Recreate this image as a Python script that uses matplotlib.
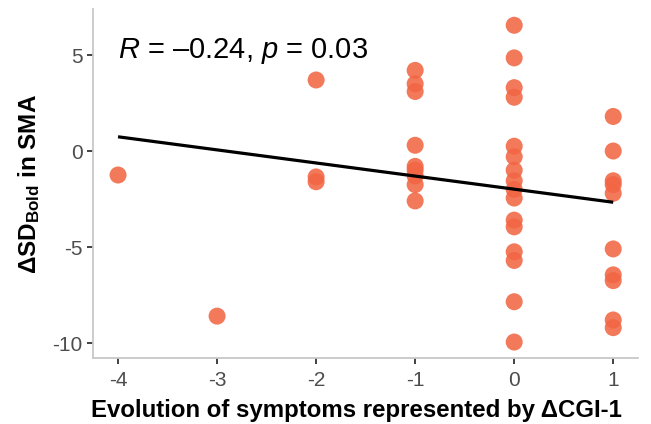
import numpy as np
import matplotlib
matplotlib.use("Agg")
import matplotlib.pyplot as plt

plt.rcParams['font.family'] = ['Liberation Sans', 'DejaVu Sans']
plt.rcParams['mathtext.fontset'] = 'custom'
plt.rcParams['mathtext.rm'] = 'Liberation Sans'
plt.rcParams['mathtext.it'] = 'Liberation Sans:italic'
plt.rcParams['mathtext.bf'] = 'Liberation Sans:bold'

# data: delta CGI-1 (x) and delta SD_Bold in SMA (y)
x_m4 = [-1.25]
x_m3 = [-8.6]
x_m2 = [3.7, -1.35, -1.6]
x_m1 = [4.2, 3.5, 3.1, 0.3, -0.8, -1.0, -1.3, -1.75, -2.6]
x_0 = [6.55, 4.85, 3.3, 2.8, 0.25, -0.3, -1.0, -1.55, -2.0, -2.45,
       -3.6, -3.95, -5.25, -5.7, -7.85, -9.95]
x_1 = [1.8, 0.0, -1.55, -1.75, -2.2, -5.1, -6.45, -6.75, -8.8, -9.2]

groups = {-4: x_m4, -3: x_m3, -2: x_m2, -1: x_m1, 0: x_0, 1: x_1}
xs = np.concatenate([[k] * len(v) for k, v in groups.items()]).astype(float)
ys = np.concatenate([v for v in groups.values()])

x_ticks = [-4, -3, -2, -1, 0, 1]
y_ticks = [-10, -5, 0, 5]
annot = r'$R$ = –0.24, $p$ = 0.03'

fig = plt.figure(figsize=(6.51, 4.24), dpi=100)
ax = fig.add_axes([0.1433, 0.1557, 0.8367, 0.8223])

ax.scatter(xs, ys, s=150, color='#F26644', alpha=0.88, edgecolors='none', zorder=2)

slope, intercept = np.polyfit(xs, ys, 1)
lx = np.array([xs.min(), xs.max()])
ax.plot(lx, intercept + slope * lx, color='black', lw=2.3, zorder=3,
        solid_capstyle='butt')

ax.set_xlim(-4.25, 1.25)
ax.set_ylim(-10.78, 7.38)
ax.set_xticks(x_ticks)
ax.set_yticks(y_ticks)
ax.set_xticklabels([str(t) for t in x_ticks])
ax.set_yticklabels([str(t) for t in y_ticks])

for s in ['top', 'right']:
    ax.spines[s].set_visible(False)
for s in ['left', 'bottom']:
    ax.spines[s].set_color('#c8c8c8')
    ax.spines[s].set_linewidth(1.3)

ax.tick_params(axis='both', length=4.5, width=1.3, color='#333333',
               labelsize=15, labelcolor='#4d4d4d')
ax.tick_params(axis='x', pad=5)
ax.tick_params(axis='y', pad=3)

ax.text(-4.0, 4.85, annot, fontsize=21, color='black', ha='left', va='baseline')

ax.set_xlabel('Evolution of symptoms represented by ΔCGI-1', fontsize=17.3,
              fontweight='bold', va='top')
ax.xaxis.set_label_coords(0.484, -0.118)
ax.set_ylabel('ΔSD$_{\\mathbf{Bold}}$ in SMA', fontsize=17.5, fontweight='bold',
              va='center')
ax.yaxis.set_label_coords(-0.118, 0.5)

fig.savefig('out.png', dpi=100)
